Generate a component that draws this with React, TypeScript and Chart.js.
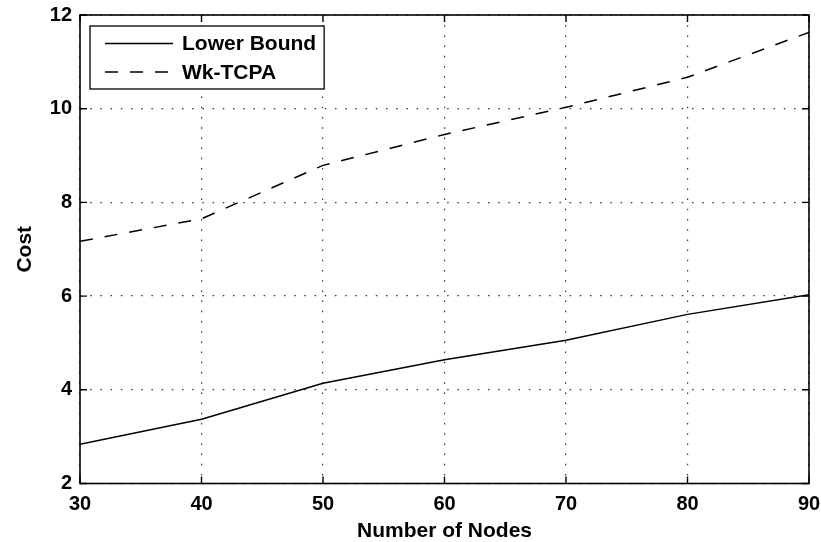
import React, { useEffect, useRef } from "react";
import { Chart, registerables } from "chart.js";

Chart.register(...registerables);

const nodes = [30, 40, 50, 60, 70, 80, 90];
const lowerBound = [2.84, 3.37, 4.14, 4.64, 5.06, 5.61, 6.03];
const wkTcpa = [7.17, 7.65, 8.79, 9.45, 10.03, 10.67, 11.63];
const seriesLabels = ["Lower Bound", "Wk-TCPA"];
const xTitle = "Number of Nodes";
const yTitle = "Cost";

const FONT = "'Liberation Sans', Arial, Helvetica, sans-serif";

const framePlugin = {
  id: "matlabFrame",
  afterDraw(chart: any) {
    const { ctx, chartArea } = chart;
    const { left, right, top, bottom } = chartArea;
    const xs = chart.scales.x;
    const ys = chart.scales.y;
    ctx.save();
    ctx.strokeStyle = "#000";
    ctx.lineWidth = 1.6;
    ctx.setLineDash([]);
    ctx.strokeRect(left, top, right - left, bottom - top);
    const tl = 7;
    ctx.beginPath();
    xs.ticks.forEach((t: any) => {
      const px = xs.getPixelForValue(t.value);
      ctx.moveTo(px, bottom);
      ctx.lineTo(px, bottom - tl);
      ctx.moveTo(px, top);
      ctx.lineTo(px, top + tl);
    });
    ys.ticks.forEach((t: any) => {
      const py = ys.getPixelForValue(t.value);
      ctx.moveTo(left, py);
      ctx.lineTo(left + tl, py);
      ctx.moveTo(right, py);
      ctx.lineTo(right - tl, py);
    });
    ctx.lineWidth = 1.4;
    ctx.stroke();

    const datasets = chart.data.datasets;
    ctx.font = `bold 21px ${FONT}`;
    let maxW = 0;
    datasets.forEach((d: any) => {
      maxW = Math.max(maxW, ctx.measureText(d.label).width);
    });
    const bx = left + 10;
    const by = top + 11;
    const lineX0 = bx + 15;
    const lineX1 = bx + 83;
    const textX = bx + 92;
    const bw = textX - bx + maxW + 8;
    const rowH = 28.5;
    const bh = 63;
    ctx.fillStyle = "#fff";
    ctx.fillRect(bx, by, bw, bh);
    ctx.lineWidth = 1.3;
    ctx.strokeStyle = "#000";
    ctx.strokeRect(bx, by, bw, bh);
    datasets.forEach((d: any, i: number) => {
      const cy = by + 17.5 + i * rowH;
      ctx.beginPath();
      ctx.setLineDash(d.borderDash || []);
      ctx.lineWidth = d.borderWidth;
      ctx.strokeStyle = d.borderColor;
      ctx.moveTo(lineX0, cy);
      ctx.lineTo(lineX1, cy);
      ctx.stroke();
      ctx.setLineDash([]);
      ctx.fillStyle = "#000";
      ctx.textBaseline = "middle";
      ctx.textAlign = "left";
      ctx.fillText(d.label, textX, cy + 1);
    });
    ctx.restore();
  },
};

export default function App() {
  const ref = useRef<HTMLCanvasElement | null>(null);
  useEffect(() => {
    if (!ref.current) return;
    const chart = new Chart(ref.current, {
      type: "line",
      data: {
        datasets: [
          {
            label: seriesLabels[0],
            data: nodes.map((n, i) => ({ x: n, y: lowerBound[i] })),
            borderColor: "#000",
            borderWidth: 1.5,
            pointRadius: 0,
            tension: 0,
            fill: false,
          },
          {
            label: seriesLabels[1],
            data: nodes.map((n, i) => ({ x: n, y: wkTcpa[i] })),
            borderColor: "#000",
            borderWidth: 1.5,
            borderDash: [13, 12],
            pointRadius: 0,
            tension: 0,
            fill: false,
          },
        ],
      },
      options: {
        animation: false,
        responsive: false,
        devicePixelRatio: 1,
        layout: { padding: { top: 15, right: 12, left: 0, bottom: 0 } },
        plugins: {
          legend: { display: false },
          tooltip: { enabled: false },
        },
        scales: {
          x: {
            type: "linear",
            min: 30,
            max: 90,
            afterFit: (s: any) => {
              s.height = 58.5;
              s.paddingLeft = 0;
              s.paddingRight = 0;
            },
            ticks: {
              stepSize: 10,
              color: "#000",
              padding: 9,
              font: { family: FONT, size: 20, weight: "bold" },
              maxRotation: 0,
            },
            grid: {
              color: "#333",
              lineWidth: 1.2,
              drawTicks: false,
            },
            border: { display: false, dash: [1.5, 8.7] },
            title: {
              display: true,
              text: xTitle,
              color: "#000",
              font: { family: FONT, size: 21, weight: "bold", lineHeight: 1 },
              padding: { top: 0, bottom: 0 },
            },
          },
          y: {
            type: "linear",
            min: 2,
            max: 12,
            afterFit: (s: any) => {
              s.width = 80;
              s.paddingTop = 0;
              s.paddingBottom = 0;
            },
            ticks: {
              stepSize: 2,
              color: "#000",
              padding: 8,
              font: { family: FONT, size: 20, weight: "bold" },
            },
            grid: {
              color: "#333",
              lineWidth: 1.2,
              drawTicks: false,
            },
            border: { display: false, dash: [1.5, 8.7] },
            title: {
              display: true,
              text: yTitle,
              color: "#000",
              font: { family: FONT, size: 21, weight: "bold", lineHeight: 1.2 },
              padding: { top: 12.4, bottom: 0 },
            },
          },
        },
      },
      plugins: [framePlugin],
    } as any);
    return () => chart.destroy();
  }, []);
  return (
    <div
      style={{
        position: "fixed",
        left: 0,
        top: 0,
        width: 821,
        height: 542,
        background: "#fff",
      }}
    >
      <canvas ref={ref} width={821} height={542} style={{ display: "block" }} />
    </div>
  );
}
